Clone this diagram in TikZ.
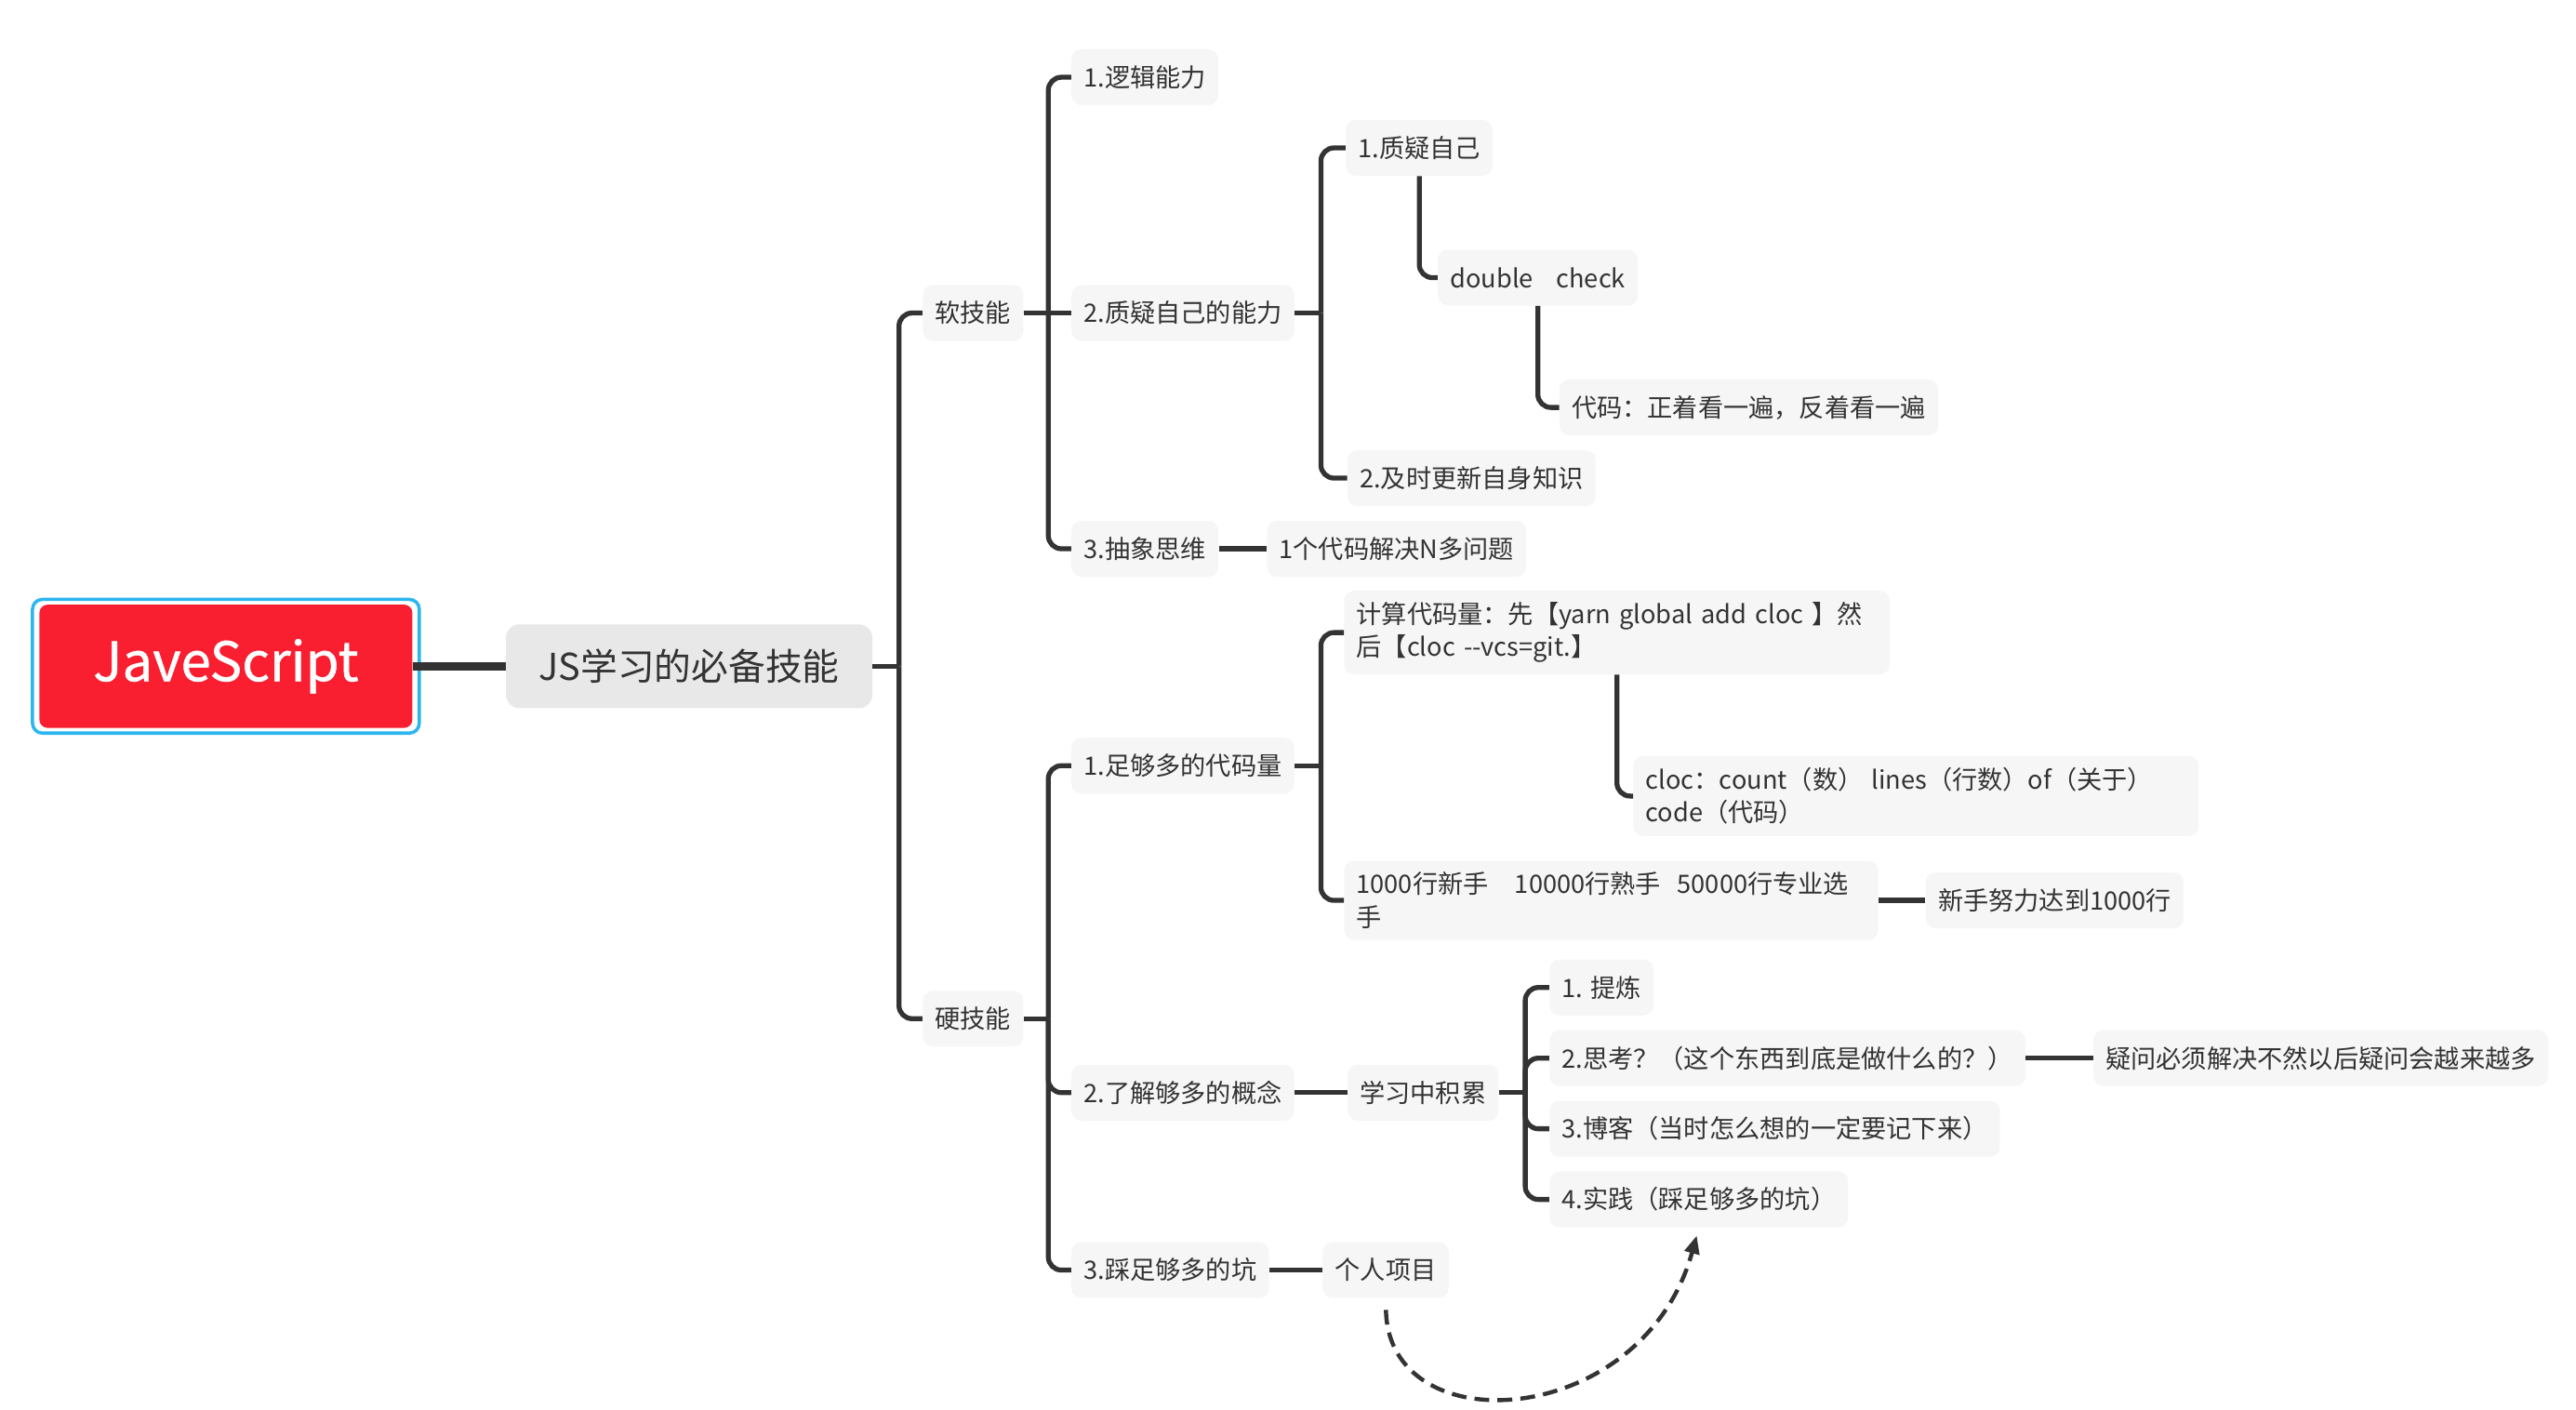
\documentclass[tikz,border=0pt]{standalone}
\usepackage{fontspec}
\setmainfont{Noto Sans CJK SC}
\newfontfamily\rootfont{Noto Sans CJK SC}[FakeBold=0.8]
\usetikzlibrary{arrows.meta}
\definecolor{linegray}{HTML}{333333}
\definecolor{textgray}{HTML}{333333}
\definecolor{topicfill}{HTML}{F6F6F6}
\definecolor{mainfill}{HTML}{E8E8E8}
\definecolor{rootred}{HTML}{F91F30}
\definecolor{selcyan}{HTML}{2CB6EF}

\begin{document}
\begin{tikzpicture}[x=1pt, y=-1pt,
  topic/.style={fill=topicfill, rounded corners=6pt, anchor=west, align=left,
                text=textgray, inner xsep=7.5pt, inner ysep=7pt,
                minimum height=34pt, font=\fontsize{15.4}{20}\selectfont},
  maintopic/.style={fill=mainfill, rounded corners=8pt, text=textgray,
                    minimum width=223pt, minimum height=51pt,
                    font=\fontsize{22.5}{27}\selectfont},
  root/.style={fill=rootred, rounded corners=5pt, text=white,
               minimum width=227pt, minimum height=75pt,
               font=\rootfont\fontsize{33}{38}\selectfont},
  selframe/.style={draw=selcyan, line width=2pt, rounded corners=6pt},
  branch/.style={draw=linegray, line width=3pt, rounded corners=8pt},
  trunk/.style={draw=linegray, line width=5pt},
  dasharrow/.style={draw=linegray, line width=2.5pt, dash pattern=on 9pt off 5pt,
                    -{Triangle[length=11pt,width=9pt]}}]

\useasboundingbox (0,0) rectangle (1568,858);

% root and main topic
\node[root] (js) at (137.5,405.5) {JaveScript};
\draw[selframe] ([shift={(-4,3)}]js.south west) rectangle ([shift={(4,-3)}]js.north east);
\node[maintopic] (skill) at (419.5,405.5) {JS学习的必备技能};
\draw[trunk] (js.east) -- (skill.west);

% first level
\node[topic] (soft) at (561.5,190.5) {软技能};
\node[topic] (hard) at (561.5,620) {硬技能};
\draw[branch] (skill.east) -- ++(16,0) coordinate (skill-j);
\foreach \c in {soft,hard} \draw[branch] (skill-j) |- (\c.west);

% soft skills
\node[topic] (logic) at (652,47) {1.逻辑能力};
\node[topic] (doubt) at (652,190.5) {2.质疑自己的能力};
\node[topic] (abstract) at (652,334) {3.抽象思维};
\draw[branch] (soft.east) -- ++(15,0) coordinate (soft-j);
\foreach \c in {logic,abstract} \draw[branch] (soft-j) |- (\c.west);
\draw[branch] (soft.east) -- (doubt.west);

\node[topic] (self) at (819,90) {1.质疑自己};
\node[topic] (update) at (820,291) {2.及时更新自身知识};
\draw[branch] (doubt.east) -- ++(16,0) coordinate (doubt-j);
\foreach \c in {self,update} \draw[branch] (doubt-j) |- (\c.west);
\node[topic] (check) at (875,169) {double\hspace{14pt}check};
\draw[branch] (self.south) |- (check.west);
\node[topic] (reread) at (949,248) {代码：正着看一遍，反着看一遍};
\draw[branch] (check.south) |- (reread.west);
\node[topic] (reuse) at (771,334) {1个代码解决N多问题};
\draw[branch] (abstract.east) -- (reuse.west);

% hard skills
\node[topic] (amount) at (652,466) {1.足够多的代码量};
\node[topic] (concept) at (652,665) {2.了解够多的概念};
\node[topic] (pitfall) at (652,773) {3.踩足够多的坑};
\draw[branch] (hard.east) -- ++(15,0) coordinate (hard-j);
\foreach \c in {amount,concept,pitfall} \draw[branch] (hard-j) |- (\c.west);

\node[topic, text width=317pt] (count) at (818,385) {计算代码量：先【yarn global add cloc 】然\\后【cloc -\kern0pt-vcs=git.】};
\node[topic, text width=310pt] (level) at (818,548) {1000行新手\hspace{16pt}10000行熟手\hspace{10pt}50000行专业选\\手};
\draw[branch] (amount.east) -- ++(16,0) coordinate (amount-j);
\foreach \c in {count,level} \draw[branch] (amount-j) |- (\c.west);
\node[topic, text width=329pt] (cloc) at (994,484.5) {cloc：count（数） lines（行数）of（关于）\\code（代码）};
\draw[branch] (count.south) |- (cloc.west);
\node[topic] (goal) at (1172,548) {新手努力达到1000行};
\draw[branch] (level.east) -- (goal.west);

\node[topic] (accum) at (820,665) {学习中积累};
\draw[branch] (concept.east) -- (accum.west);
\node[topic] (refine) at (943,601) {1. 提炼};
\node[topic] (think) at (943,644) {2.思考？（这个东西到底是做什么的？）};
\node[topic] (blog) at (943,687) {3.博客（当时怎么想的一定要记下来）};
\node[topic] (practice) at (943,730) {4.实践（踩足够多的坑）};
\draw[branch] (accum.east) -- ++(16,0) coordinate (accum-j);
\foreach \c in {refine,think,blog,practice} \draw[branch] (accum-j) |- (\c.west);
\node[topic] (solve) at (1274,644) {疑问必须解决不然以后疑问会越来越多};
\draw[branch] (think.east) -- (solve.west);

\node[topic] (project) at (805,773) {个人项目};
\draw[branch] (pitfall.east) -- (project.west);
\draw[dasharrow, shorten <=7pt, shorten >=5pt] (project.south) .. controls (845,880) and (1000,870) .. (practice.south);
\end{tikzpicture}
\end{document}
